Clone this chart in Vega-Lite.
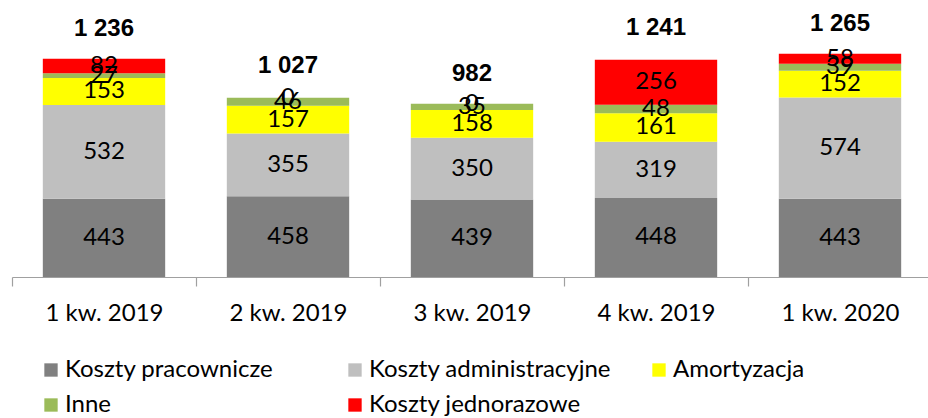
{
  "$schema": "https://vega.github.io/schema/vega-lite/v6.json",
  "width": 920,
  "height": 277,
  "autosize": {"type": "none"},
  "padding": {"left": 12, "top": 0, "right": -4, "bottom": 141},
  "background": "white",
  "config": {
    "view": {"stroke": null},
    "locale": {"number": {"decimal": ",", "thousands": " ", "grouping": [3], "currency": ["", " zł"]}}
  },
  "datasets": {
    "koszty": [
      {"kwartal": "1 kw. 2019", "kategoria": "Koszty pracownicze", "n": 1, "wartosc": 443},
      {"kwartal": "1 kw. 2019", "kategoria": "Koszty administracyjne", "n": 2, "wartosc": 532},
      {"kwartal": "1 kw. 2019", "kategoria": "Amortyzacja", "n": 3, "wartosc": 153},
      {"kwartal": "1 kw. 2019", "kategoria": "Inne", "n": 4, "wartosc": 27},
      {"kwartal": "1 kw. 2019", "kategoria": "Koszty jednorazowe", "n": 5, "wartosc": 82},
      {"kwartal": "2 kw. 2019", "kategoria": "Koszty pracownicze", "n": 1, "wartosc": 458},
      {"kwartal": "2 kw. 2019", "kategoria": "Koszty administracyjne", "n": 2, "wartosc": 355},
      {"kwartal": "2 kw. 2019", "kategoria": "Amortyzacja", "n": 3, "wartosc": 157},
      {"kwartal": "2 kw. 2019", "kategoria": "Inne", "n": 4, "wartosc": 46},
      {"kwartal": "2 kw. 2019", "kategoria": "Koszty jednorazowe", "n": 5, "wartosc": 0},
      {"kwartal": "3 kw. 2019", "kategoria": "Koszty pracownicze", "n": 1, "wartosc": 439},
      {"kwartal": "3 kw. 2019", "kategoria": "Koszty administracyjne", "n": 2, "wartosc": 350},
      {"kwartal": "3 kw. 2019", "kategoria": "Amortyzacja", "n": 3, "wartosc": 158},
      {"kwartal": "3 kw. 2019", "kategoria": "Inne", "n": 4, "wartosc": 35},
      {"kwartal": "3 kw. 2019", "kategoria": "Koszty jednorazowe", "n": 5, "wartosc": 0},
      {"kwartal": "4 kw. 2019", "kategoria": "Koszty pracownicze", "n": 1, "wartosc": 448},
      {"kwartal": "4 kw. 2019", "kategoria": "Koszty administracyjne", "n": 2, "wartosc": 319},
      {"kwartal": "4 kw. 2019", "kategoria": "Amortyzacja", "n": 3, "wartosc": 161},
      {"kwartal": "4 kw. 2019", "kategoria": "Inne", "n": 4, "wartosc": 48},
      {"kwartal": "4 kw. 2019", "kategoria": "Koszty jednorazowe", "n": 5, "wartosc": 256},
      {"kwartal": "1 kw. 2020", "kategoria": "Koszty pracownicze", "n": 1, "wartosc": 443},
      {"kwartal": "1 kw. 2020", "kategoria": "Koszty administracyjne", "n": 2, "wartosc": 574},
      {"kwartal": "1 kw. 2020", "kategoria": "Amortyzacja", "n": 3, "wartosc": 152},
      {"kwartal": "1 kw. 2020", "kategoria": "Inne", "n": 4, "wartosc": 39},
      {"kwartal": "1 kw. 2020", "kategoria": "Koszty jednorazowe", "n": 5, "wartosc": 58}
    ],
    "sumy": [
      {"kwartal": "1 kw. 2019", "suma": 1236},
      {"kwartal": "2 kw. 2019", "suma": 1027},
      {"kwartal": "3 kw. 2019", "suma": 982},
      {"kwartal": "4 kw. 2019", "suma": 1241},
      {"kwartal": "1 kw. 2020", "suma": 1265}
    ]
  },
  "layer": [
    {
      "data": {"name": "koszty"},
      "transform": [
        {"stack": "wartosc", "groupby": ["kwartal"], "sort": [{"field": "n", "order": "ascending"}], "as": ["v0", "v1"]}
      ],
      "mark": {"type": "bar", "width": {"band": 0.665}},
      "encoding": {
        "x": {
          "field": "kwartal",
          "type": "nominal",
          "scale": {
            "domain": ["1 kw. 2019", "2 kw. 2019", "3 kw. 2019", "4 kw. 2019", "1 kw. 2020"],
            "paddingInner": 0,
            "paddingOuter": 0
          },
          "axis": {
            "title": null,
            "labelAngle": 0,
            "domainColor": "#A0A0A0",
            "domainWidth": 1.2,
            "ticks": true,
            "tickColor": "#A0A0A0",
            "tickWidth": 1.2,
            "tickSize": 9,
            "tickBand": "extent",
            "labelFont": "Lato",
            "labelFontSize": 24,
            "labelColor": "#000000",
            "labelPadding": 27,
            "labelBaseline": "middle",
            "grid": false
          }
        },
        "y": {"field": "v0", "type": "quantitative", "scale": {"domain": [0, 1570], "nice": false, "zero": true}, "axis": null},
        "y2": {"field": "v1"},
        "color": {
          "field": "kategoria",
          "type": "nominal",
          "scale": {
            "domain": ["Koszty pracownicze", "Koszty administracyjne", "Amortyzacja", "Inne", "Koszty jednorazowe"],
            "range": ["#808080", "#BFBFBF", "#FFFF00", "#9BBB59", "#FF0000"]
          },
          "legend": {
            "title": null,
            "orient": "none",
            "legendX": 27,
            "legendY": 358,
            "direction": "horizontal",
            "columns": 3,
            "gridAlign": "all",
            "columnPadding": 35,
            "rowPadding": 11,
            "padding": 0,
            "symbolType": "square",
            "symbolSize": 178,
            "symbolStrokeWidth": 0,
            "symbolOpacity": 1,
            "labelFont": "Lato",
            "labelFontSize": 24,
            "labelColor": "#000000",
            "labelOffset": 2,
            "labelLimit": 400
          }
        }
      }
    },
    {
      "data": {"name": "koszty"},
      "transform": [
        {"stack": "wartosc", "groupby": ["kwartal"], "sort": [{"field": "n", "order": "ascending"}], "as": ["v0", "v1"]},
        {"calculate": "(datum.v0 + datum.v1) / 2", "as": "srodek"}
      ],
      "mark": {"type": "text", "font": "Lato", "fontSize": 24, "color": "#000000", "baseline": "middle", "align": "center"},
      "encoding": {
        "x": {"field": "kwartal", "type": "nominal"},
        "y": {"field": "srodek", "type": "quantitative"},
        "text": {"field": "wartosc", "type": "quantitative", "format": "d"}
      }
    },
    {
      "data": {"name": "sumy"},
      "mark": {"type": "text", "font": "Liberation Sans", "fontWeight": "bold", "fontSize": 24, "color": "#000000", "baseline": "middle", "align": "center", "dy": -30},
      "encoding": {
        "x": {"field": "kwartal", "type": "nominal"},
        "y": {"field": "suma", "type": "quantitative"},
        "text": {"field": "suma", "type": "quantitative", "format": ",d"}
      }
    }
  ]
}
